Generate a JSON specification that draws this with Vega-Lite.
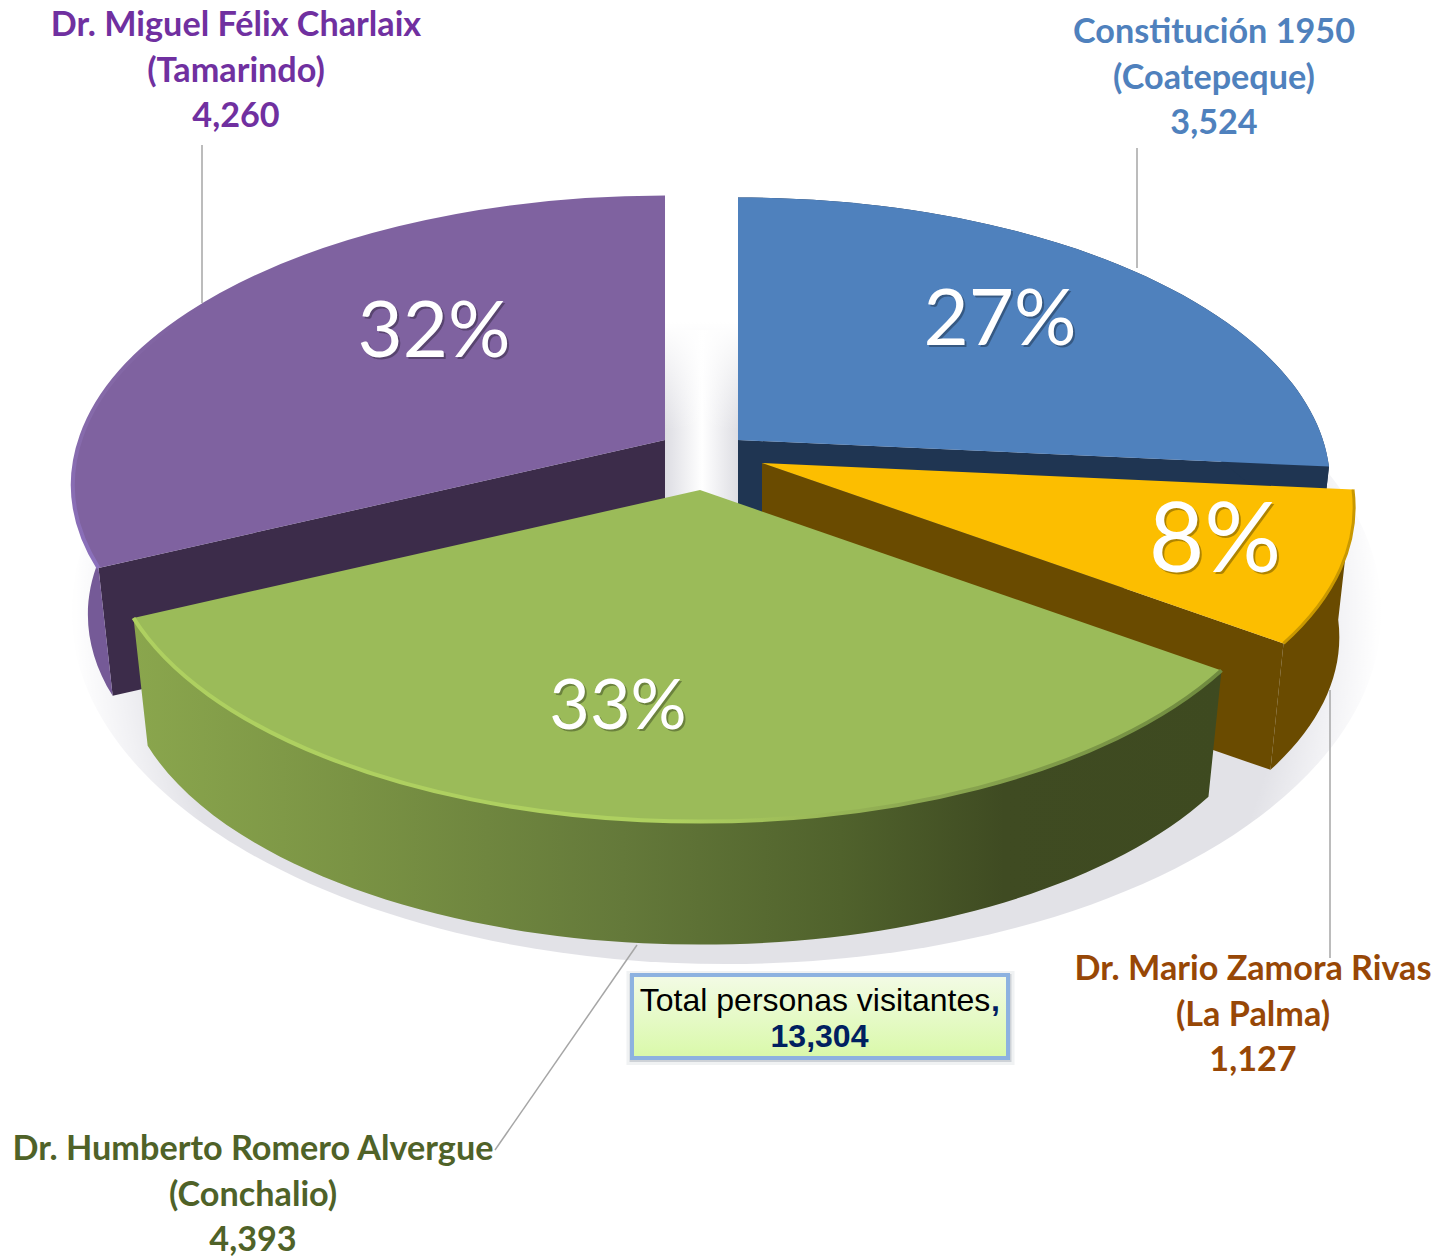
{
"$schema":"https://vega.github.io/schema/vega-lite/v6.json",
"width":1449,"height":1258,"padding":0,
"autosize":{"type":"none"},
"background":"#ffffff",
"config":{"view":{"stroke":null}},
"data":{"values":[
{"hospital":"Constitución 1950","sede":"(Coatepeque)","visitantes":3524,"porcentaje":"27%","orden":1},
{"hospital":"Dr. Miguel Félix Charlaix","sede":"(Tamarindo)","visitantes":4260,"porcentaje":"32%","orden":4},
{"hospital":"Dr. Mario Zamora Rivas","sede":"(La Palma)","visitantes":1127,"porcentaje":"8%","orden":2},
{"hospital":"Dr. Humberto Romero Alvergue","sede":"(Conchalio)","visitantes":4393,"porcentaje":"33%","orden":3}
]},
"transform":[{"stack":"visitantes","offset":"normalize","sort":[{"field":"orden","order":"ascending"}],"as":["t0","t1"]}],
"resolve":{"scale":{"color":"independent"}},
"layer":[
{"transform":[{"filter":"datum.orden==3"}],
 "mark":{"type":"point","filled":true,"opacity":1,"size":4,"xOffset":2,"yOffset":-17,
  "shape":"M-655,0A655,352 0 1 1 655,0A655,352 0 1 1 -655,0Z",
  "fill":{"gradient":"radial","x1":0.5,"y1":0.5,"r1":0,"x2":0.5,"y2":0.5,"r2":0.5,"stops":[{"offset":0,"color":"#e2e2e7"},{"offset":0.86,"color":"#e2e2e7"},{"offset":0.93,"color":"#f1f1f4"},{"offset":1,"color":"#ffffff"}]}},
 "encoding":{}},
{"transform":[{"filter":"datum.orden==3"}],
 "mark":{"type":"point","filled":true,"opacity":1,"size":4,"xOffset":-22.5,"yOffset":-189,
  "shape":"M-38,-110H38V110H-38Z",
  "fill":{"gradient":"linear","x1":0,"y1":0,"x2":1,"y2":0,"stops":[{"offset":0,"color":"#dcdce2"},{"offset":0.5,"color":"#ffffff"},{"offset":1,"color":"#dcdce2"}]}},
 "encoding":{}},
{"transform":[{"filter":"datum.orden==3"}],
 "mark":{"type":"point","filled":true,"opacity":1,"size":4,"xOffset":-22.5,"yOffset":-319,
  "shape":"M-44,-120H44V120H-44Z",
  "fill":{"gradient":"linear","x1":0,"y1":0,"x2":0,"y2":1,"stops":[{"offset":0,"color":"#ffffff"},{"offset":0.55,"color":"#ffffff"},{"offset":1,"color":"rgba(255,255,255,0)"}]}},
 "encoding":{}},
{"transform":[{"filter":"datum.orden<=2"}],
 "mark":{"type":"point","filled":true,"opacity":1,"size":4,
  "xOffset":{"expr":"[13.5,37.5,-24.5,-59.5][datum.orden-1]"},
  "yOffset":{"expr":"[-189,-166,-139,-189][datum.orden-1]"},
  "shape":{"expr":"'M0,0L'+(585*sin(6.2832*datum.t1)/(1+.155*cos(6.2832*datum.t1)))+','+(-280*cos(6.2832*datum.t1)/(1+.155*cos(6.2832*datum.t1)))+'L'+(.975*585*sin(6.2832*datum.t1)/(1+.155*cos(6.2832*datum.t1)))+','+(131-.975*280*cos(6.2832*datum.t1)/(1+.155*cos(6.2832*datum.t1)))+'L0,131Z'"}},
 "encoding":{"color":{"field":"orden","type":"nominal","legend":null,"scale":{"domain":[1,2],"range":["#1f3552","#6a4b00"]}}}},
{"transform":[{"filter":"datum.orden==4"}],
 "mark":{"type":"point","filled":true,"opacity":1,"size":4,"color":"#3c2c4a",
  "xOffset":{"expr":"[13.5,37.5,-24.5,-59.5][datum.orden-1]"},
  "yOffset":{"expr":"[-189,-166,-139,-189][datum.orden-1]"},
  "shape":{"expr":"'M0,0L'+(585*sin(6.2832*datum.t0)/(1+.155*cos(6.2832*datum.t0)))+','+(-280*cos(6.2832*datum.t0)/(1+.155*cos(6.2832*datum.t0)))+'L'+(.975*585*sin(6.2832*datum.t0)/(1+.155*cos(6.2832*datum.t0)))+','+(131-.975*280*cos(6.2832*datum.t0)/(1+.155*cos(6.2832*datum.t0)))+'L0,131Z'"}},
 "encoding":{}},
{"transform":[{"filter":"datum.orden!=3"}],
 "mark":{"type":"point","filled":true,"opacity":1,"size":4,
  "xOffset":{"expr":"[13.5,37.5,-24.5,-59.5][datum.orden-1]"},
  "yOffset":{"expr":"[-189,-166,-139,-189][datum.orden-1]"},
  "shape":{"expr":"'M'+(585*sin(6.2832*datum.t0)/(1+.155*cos(6.2832*datum.t0)))+','+(-280*cos(6.2832*datum.t0)/(1+.155*cos(6.2832*datum.t0)))+'A592,287 0 0 1 '+(585*sin(6.2832*datum.t1)/(1+.155*cos(6.2832*datum.t1)))+','+(-280*cos(6.2832*datum.t1)/(1+.155*cos(6.2832*datum.t1)))+'L'+(.975*585*sin(6.2832*datum.t1)/(1+.155*cos(6.2832*datum.t1)))+','+(131-.975*280*cos(6.2832*datum.t1)/(1+.155*cos(6.2832*datum.t1)))+'A577,280 0 0 0 '+(.975*585*sin(6.2832*datum.t0)/(1+.155*cos(6.2832*datum.t0)))+','+(131-.975*280*cos(6.2832*datum.t0)/(1+.155*cos(6.2832*datum.t0)))+'Z'"}},
 "encoding":{"color":{"field":"orden","type":"nominal","legend":null,"scale":{"domain":[1,2,4],"range":["#1f3552","#6a4b00","#755a97"]}}}},
{"transform":[{"filter":"datum.orden==3"}],
 "mark":{"type":"point","filled":true,"opacity":1,"size":4,
  "fill":{"gradient":"linear","x1":0,"y1":0,"x2":1,"y2":0,"stops":[{"offset":0,"color":"#8aa64d"},{"offset":0.2,"color":"#7a9344"},{"offset":0.45,"color":"#64793a"},{"offset":0.65,"color":"#50622c"},{"offset":0.8,"color":"#3f4b22"},{"offset":1,"color":"#3e4a20"}]},
  "xOffset":{"expr":"[13.5,37.5,-24.5,-59.5][datum.orden-1]"},
  "yOffset":{"expr":"[-189,-166,-139,-189][datum.orden-1]"},
  "shape":{"expr":"'M'+(585*sin(6.2832*datum.t0)/(1+.155*cos(6.2832*datum.t0)))+','+(-280*cos(6.2832*datum.t0)/(1+.155*cos(6.2832*datum.t0)))+'A592,287 0 0 1 '+(585*sin(6.2832*datum.t1)/(1+.155*cos(6.2832*datum.t1)))+','+(-280*cos(6.2832*datum.t1)/(1+.155*cos(6.2832*datum.t1)))+'L'+(.975*585*sin(6.2832*datum.t1)/(1+.155*cos(6.2832*datum.t1)))+','+(131-.975*280*cos(6.2832*datum.t1)/(1+.155*cos(6.2832*datum.t1)))+'A577,280 0 0 0 '+(.975*585*sin(6.2832*datum.t0)/(1+.155*cos(6.2832*datum.t0)))+','+(131-.975*280*cos(6.2832*datum.t0)/(1+.155*cos(6.2832*datum.t0)))+'Z'"}},
 "encoding":{}},
{"mark":{"type":"point","filled":true,"opacity":1,"size":4,
  "xOffset":{"expr":"[13.5,37.5,-24.5,-59.5][datum.orden-1]"},
  "yOffset":{"expr":"[-189,-166,-139,-189][datum.orden-1]"},
  "shape":{"expr":"'M0,0L'+(585*sin(6.2832*datum.t0)/(1+.155*cos(6.2832*datum.t0)))+','+(-280*cos(6.2832*datum.t0)/(1+.155*cos(6.2832*datum.t0)))+'A592,287 0 0 1 '+(585*sin(6.2832*datum.t1)/(1+.155*cos(6.2832*datum.t1)))+','+(-280*cos(6.2832*datum.t1)/(1+.155*cos(6.2832*datum.t1)))+'Z'"}},
 "encoding":{"color":{"field":"orden","type":"nominal","legend":null,"scale":{"domain":[1,2,3,4],"range":["#4f81bd","#fcbe00","#9bbb59","#7f62a0"]}}}},
{"transform":[{"filter":"datum.orden==2"}],
 "mark":{"type":"point","filled":false,"opacity":1,"size":4,"strokeWidth":3,"color":"#c99800","xOffset":37.5,"yOffset":-166,
  "shape":{"expr":"'M'+(585*sin(6.2832*datum.t0)/(1+.155*cos(6.2832*datum.t0)))+','+(-280*cos(6.2832*datum.t0)/(1+.155*cos(6.2832*datum.t0)))+'A592,287 0 0 1 '+(585*sin(6.2832*datum.t1)/(1+.155*cos(6.2832*datum.t1)))+','+(-280*cos(6.2832*datum.t1)/(1+.155*cos(6.2832*datum.t1)))"}},
 "encoding":{}},
{"transform":[{"filter":"datum.orden==4"}],
 "mark":{"type":"point","filled":false,"opacity":1,"size":4,"strokeWidth":4,
  "stroke":{"gradient":"linear","x1":0,"y1":1,"x2":0,"y2":0,"stops":[{"offset":0,"color":"#8b70bc"},{"offset":0.45,"color":"#8569a8"},{"offset":0.7,"color":"#7f62a0"},{"offset":1,"color":"#7f62a0"}]},
  "xOffset":-59.5,"yOffset":-189,
  "shape":{"expr":"'M'+(585*sin(6.2832*datum.t0)/(1+.155*cos(6.2832*datum.t0)))+','+(-280*cos(6.2832*datum.t0)/(1+.155*cos(6.2832*datum.t0)))+'A592,287 0 0 1 '+(585*sin(6.2832*datum.t1)/(1+.155*cos(6.2832*datum.t1)))+','+(-280*cos(6.2832*datum.t1)/(1+.155*cos(6.2832*datum.t1)))"}},
 "encoding":{}},
{"transform":[{"filter":"datum.orden==3"}],
 "mark":{"type":"point","filled":false,"opacity":1,"size":4,"strokeWidth":4,
  "stroke":{"gradient":"linear","x1":0,"y1":0,"x2":1,"y2":0,"stops":[{"offset":0,"color":"#aed060"},{"offset":0.5,"color":"#aed060"},{"offset":0.72,"color":"#8ca851"},{"offset":1,"color":"#6f8a3f"}]},
  "xOffset":-24.5,"yOffset":-139,
  "shape":{"expr":"'M'+(585*sin(6.2832*datum.t0)/(1+.155*cos(6.2832*datum.t0)))+','+(-280*cos(6.2832*datum.t0)/(1+.155*cos(6.2832*datum.t0)))+'A592,287 0 0 1 '+(585*sin(6.2832*datum.t1)/(1+.155*cos(6.2832*datum.t1)))+','+(-280*cos(6.2832*datum.t1)/(1+.155*cos(6.2832*datum.t1)))"}},
 "encoding":{}},
{"mark":{"type":"point","filled":false,"opacity":1,"size":4,"strokeWidth":1.5,"color":"#a6a6a6",
  "shape":{"expr":"['M412.5,-481V-361','M605.5,61V329','M-87.5,316L-229.5,521','M-522.5,-484V-326'][datum.orden-1]"}},
 "encoding":{}},
{"mark":{"type":"text","font":"Lato","align":"center","baseline":"middle","color":"#000000","opacity":0.3,
  "fontSize":{"expr":"[78,96,70,78][datum.orden-1]"},
  "xOffset":{"expr":"[277.5,492.5,-104.5,-288.5][datum.orden-1]"},
  "yOffset":{"expr":"[-305,-84,81,-293][datum.orden-1]"}},
 "encoding":{"text":{"field":"porcentaje"}}},
{"mark":{"type":"text","font":"Lato","align":"center","baseline":"middle","color":"#ffffff",
  "fontSize":{"expr":"[78,96,70,78][datum.orden-1]"},
  "xOffset":{"expr":"[275.5,490.5,-106.5,-290.5][datum.orden-1]"},
  "yOffset":{"expr":"[-307,-86,79,-295][datum.orden-1]"}},
 "encoding":{"text":{"field":"porcentaje"}}},
{"mark":{"type":"text","font":"Lato","fontWeight":"bold","fontSize":34.2,"align":"center","baseline":"middle","lineHeight":45.5,
  "text":{"expr":"[datum.hospital,datum.sede,format(datum.visitantes,',')]"},
  "xOffset":{"expr":"[489.5,528.5,-471.5,-488.5][datum.orden-1]"},
  "yOffset":{"expr":"[-596,341,521,-603][datum.orden-1]"}},
 "encoding":{"color":{"field":"orden","type":"nominal","legend":null,"scale":{"domain":[1,2,3,4],"range":["#4f81bd","#974706","#4f6228","#7030a0"]}}}},
{"data":{"values":[{"etiqueta":"Total personas visitantes","separador":",","total":13304}]},
 "layer":[
 {"mark":{"type":"point","filled":true,"opacity":0.08,"size":4,"color":"#44546a","xOffset":96,"yOffset":389,"shape":"M-194,-47H194V47H-194Z"},"encoding":{}},
 {"mark":{"type":"point","filled":true,"opacity":0.2,"size":4,"color":"#44546a","xOffset":96,"yOffset":389,"shape":"M-191,-44H191V44H-191Z"},"encoding":{}},
 {"mark":{"type":"point","filled":true,"opacity":1,"size":4,"xOffset":95.5,"yOffset":387.5,"stroke":"#8db2e0","strokeWidth":4,
   "fill":{"gradient":"linear","x1":0,"y1":0,"x2":0,"y2":1,"stops":[{"offset":0,"color":"#f3fbe6"},{"offset":1,"color":"#d9f9a9"}]},
   "shape":"M-188,-41.5H188V41.5H-188Z"},"encoding":{}},
 {"mark":{"type":"text","font":"Liberation Sans","fontSize":32,"align":"center","baseline":"middle","color":"#000000","xOffset":90.5,"yOffset":372},"encoding":{"text":{"field":"etiqueta"}}},
 {"mark":{"type":"text","font":"Liberation Sans","fontWeight":"bold","fontSize":32,"align":"center","baseline":"middle","color":"#002060","xOffset":271,"yOffset":372},"encoding":{"text":{"field":"separador"}}},
 {"mark":{"type":"text","font":"Liberation Sans","fontWeight":"bold","fontSize":32,"align":"center","baseline":"middle","color":"#002060","xOffset":95,"yOffset":408},"encoding":{"text":{"field":"total","format":",","type":"quantitative"}}}
 ]}
]
}
